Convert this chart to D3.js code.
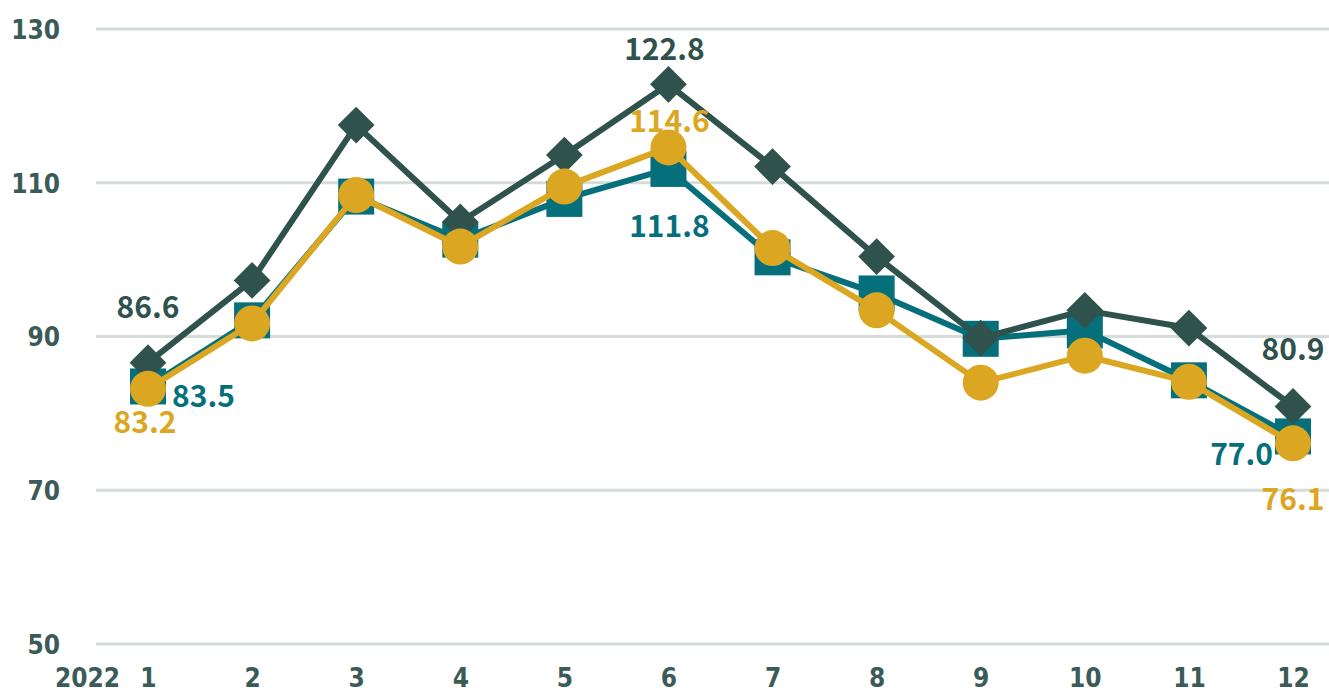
<!DOCTYPE html>
<html lang="ja">
<head>
<meta charset="UTF-8">
<title>2022 monthly index</title>
<script src="https://d3js.org/d3.v7.min.js"></script>
<style>
  body { margin: 0; background: #fff; overflow: hidden; }
  .tick-label { font-family: 'DejaVu Sans Condensed', 'DejaVu Sans', sans-serif; font-stretch: condensed; font-weight: bold; font-size: 26px; fill: #3a5b58; }
  .data-label { font-family: 'Noto Sans CJK JP', 'Noto Sans', sans-serif; font-weight: 600; font-size: 30px; }
</style>
</head>
<body>
<svg id="chart" width="1329" height="693"></svg>
<script>
// months and series values
const months = [1, 2, 3, 4, 5, 6, 7, 8, 9, 10, 11, 12];
const seriesDark = [86.6, 97.3, 117.5, 104.9, 113.6, 122.8, 112.1, 100.4, 89.8, 93.4, 91.1, 80.9];
const seriesTeal = [83.5, 92.1, 108.2, 102.6, 107.9, 111.8, 100.3, 95.6, 89.7, 90.8, 84.3, 77.0];
const seriesGold = [83.2, 91.7, 108.4, 101.7, 109.5, 114.6, 101.5, 93.4, 84.0, 87.5, 84.1, 76.1];
const yTicks = [50, 70, 90, 110, 130];
const yearLabel = "2022";

const colors = { dark: "#2f524d", teal: "#05707b", gold: "#dba723", grid: "#d5dcd8" };

const svg = d3.select("#chart");

const x = d3.scaleLinear().domain([1, 12]).range([148, 1293]);
const y = d3.scaleLinear().domain([50, 130]).range([644, 29]);

// gridlines
svg.append("g")
  .selectAll("line")
  .data(yTicks)
  .join("line")
  .attr("x1", 96)
  .attr("x2", 1329)
  .attr("y1", d => y(d))
  .attr("y2", d => y(d))
  .attr("stroke", colors.grid)
  .attr("stroke-width", 3);

// y axis labels
const yAxis = d3.axisLeft(y).tickValues(yTicks).tickSize(0).tickPadding(0);
const yg = svg.append("g").attr("transform", "translate(60,0)").call(yAxis);
yg.select(".domain").remove();
yg.selectAll("text").attr("class", "tick-label").attr("dy", "0.36em");

// x axis labels
const xAxis = d3.axisBottom(x).tickValues(months).tickFormat(d3.format("d")).tickSize(0).tickPadding(0);
const xg = svg.append("g").attr("transform", "translate(0,687)").call(xAxis);
xg.select(".domain").remove();
xg.selectAll("text").attr("class", "tick-label").attr("dy", 0);

svg.append("text")
  .attr("class", "tick-label")
  .attr("x", 120)
  .attr("y", 687)
  .attr("text-anchor", "end")
  .text(yearLabel);

const line = d3.line().x((d, i) => x(months[i])).y(d => y(d));

function drawLine(values, color, width) {
  svg.append("path")
    .datum(values)
    .attr("fill", "none")
    .attr("stroke", color)
    .attr("stroke-width", width)
    .attr("stroke-linejoin", "round")
    .attr("d", line);
}

// teal series (squares)
drawLine(seriesTeal, colors.teal, 6);
svg.append("g")
  .selectAll("rect")
  .data(seriesTeal)
  .join("rect")
  .attr("x", (d, i) => x(months[i]) - 18)
  .attr("y", d => y(d) - 18)
  .attr("width", 36)
  .attr("height", 36)
  .attr("fill", colors.teal);

// dark series (diamonds)
drawLine(seriesDark, colors.dark, 6);
svg.append("g")
  .selectAll("path")
  .data(seriesDark)
  .join("path")
  .attr("d", d3.symbol(d3.symbolSquare, 26 * 26))
  .attr("transform", (d, i) => `translate(${x(months[i])},${y(d)}) rotate(45)`)
  .attr("fill", colors.dark);

// gold series (circles)
drawLine(seriesGold, colors.gold, 6);
svg.append("g")
  .selectAll("circle")
  .data(seriesGold)
  .join("circle")
  .attr("cx", (d, i) => x(months[i]))
  .attr("cy", d => y(d))
  .attr("r", 18)
  .attr("fill", colors.gold);

// data labels: series, month index, offset, anchor
const labels = [
  { s: seriesDark, c: colors.dark, i: 0, dx: 0, dy: -45, a: "middle" },
  { s: seriesTeal, c: colors.teal, i: 0, dx: 24, dy: 21, a: "start" },
  { s: seriesGold, c: colors.gold, i: 0, dx: -3, dy: 44, a: "middle" },
  { s: seriesDark, c: colors.dark, i: 5, dx: -4, dy: -24, a: "middle" },
  { s: seriesGold, c: colors.gold, i: 5, dx: 1, dy: -15, a: "middle" },
  { s: seriesTeal, c: colors.teal, i: 5, dx: 1, dy: 68, a: "middle" },
  { s: seriesDark, c: colors.dark, i: 11, dx: 0, dy: -46, a: "middle" },
  { s: seriesTeal, c: colors.teal, i: 11, dx: -20, dy: 29, a: "end" },
  { s: seriesGold, c: colors.gold, i: 11, dx: 0, dy: 67, a: "middle" }
];

svg.append("g")
  .selectAll("text")
  .data(labels)
  .join("text")
  .attr("class", "data-label")
  .attr("x", d => x(months[d.i]) + d.dx)
  .attr("y", d => y(d.s[d.i]) + d.dy)
  .attr("text-anchor", d => d.a)
  .attr("fill", d => d.c)
  .text(d => d.s[d.i].toFixed(1));
</script>
</body>
</html>
